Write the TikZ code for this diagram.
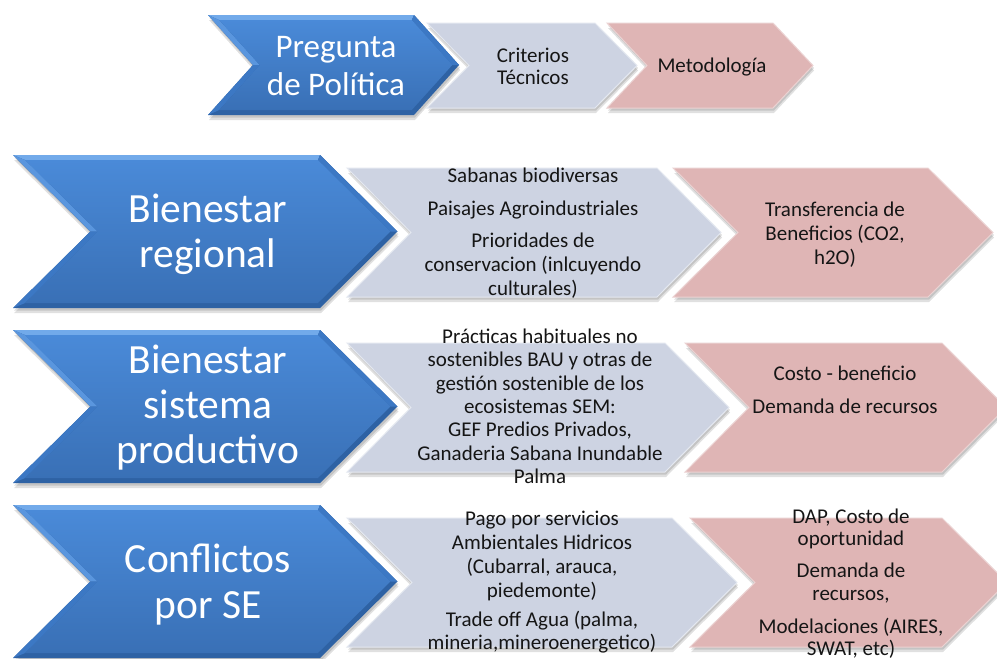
\documentclass[tikz,border=0pt]{standalone}
\usepackage{fontspec}
\setmainfont{Carlito}
\definecolor{bdark}{HTML}{2E62A4}
\definecolor{blight}{HTML}{72AAEA}
\definecolor{bmid}{HTML}{3C78C4}
\definecolor{bleft}{HTML}{5A96DE}
\definecolor{btop}{HTML}{4A8AD8}
\definecolor{bbot}{HTML}{3970B6}
\definecolor{grayf}{HTML}{CDD3E2}
\definecolor{grayl}{HTML}{E4E8F0}
\definecolor{pinkf}{HTML}{DFB5B5}
\definecolor{pinkl}{HTML}{EBD2D2}
\definecolor{txt}{HTML}{151515}
\tikzset{
  bt/.style={text=white,font=\fontsize{41.5}{45}\selectfont,anchor=base,inner sep=0pt},
  tt/.style={text=white,font=\fontsize{33}{38}\selectfont,anchor=base,inner sep=0pt},
  st/.style={text=txt,font=\fontsize{21}{24}\selectfont,anchor=base,inner sep=0pt},
  shad/.style={fill=black,opacity=0.12},
}
% L R top bot d fill edge
\newcommand{\flatchev}[7]{%
  \pgfmathsetmacro\cmid{(#3+#4)/2}%
  \fill[shad] ({#1+1},{#3+5}) -- ({#2+1},{#3+5}) -- ({#2+#5+1},{\cmid+5}) -- ({#2+1},{#4+5}) -- ({#1+1},{#4+5}) -- ({#1+#5+1},{\cmid+5}) -- cycle;
  \fill[shad] ({#1+1},{#3+2.5}) -- ({#2+1},{#3+2.5}) -- ({#2+#5+1},{\cmid+2.5}) -- ({#2+1},{#4+2.5}) -- ({#1+1},{#4+2.5}) -- ({#1+#5+1},{\cmid+2.5}) -- cycle;
  \fill[#6,draw=#7,line width=1pt] (#1,#3) -- (#2,#3) -- ({#2+#5},\cmid) -- (#2,#4) -- (#1,#4) -- ({#1+#5},\cmid) -- cycle;
}
% L R top bot d
\newcommand{\bluechev}[5]{%
  \pgfmathsetmacro\cmid{(#3+#4)/2}%
  \pgfmathsetmacro\hh{(#4-#3)/2}%
  \pgfmathsetmacro\ss{5*sqrt(\hh*\hh+#5*#5)/\hh}%
  \pgfmathsetmacro\aa{#5*5/\hh}%
  \fill[shad] ({#1+1},{#3+5}) -- ({#2+1},{#3+5}) -- ({#2+#5+1},{\cmid+5}) -- ({#2+1},{#4+5}) -- ({#1+1},{#4+5}) -- ({#1+#5+1},{\cmid+5}) -- cycle;
  \fill[shad] ({#1+1},{#3+2.5}) -- ({#2+1},{#3+2.5}) -- ({#2+#5+1},{\cmid+2.5}) -- ({#2+1},{#4+2.5}) -- ({#1+1},{#4+2.5}) -- ({#1+#5+1},{\cmid+2.5}) -- cycle;
  \fill[bdark] (#1,#3) -- (#2,#3) -- ({#2+#5},\cmid) -- (#2,#4) -- (#1,#4) -- ({#1+#5},\cmid) -- cycle;
  \fill[blight] (#1,#3) -- (#2,#3) -- ({#2+\aa-\ss},{#3+5}) -- ({#1+\aa+\ss},{#3+5}) -- cycle;
  \fill[bmid] (#2,#3) -- ({#2+#5},\cmid) -- ({#2+#5-\ss},\cmid) -- ({#2+\aa-\ss},{#3+5}) -- cycle;
  \fill[bleft] (#1,#3) -- ({#1+#5},\cmid) -- ({#1+#5+\ss},\cmid) -- ({#1+\aa+\ss},{#3+5}) -- cycle;
  \fill[bmid] (#1,#4) -- ({#1+#5},\cmid) -- ({#1+#5+\ss},\cmid) -- ({#1+\aa+\ss},{#4-5}) -- cycle;
  \shade[top color=btop,bottom color=bbot] ({#1+\aa+\ss},{#3+5}) -- ({#2+\aa-\ss},{#3+5}) -- ({#2+#5-\ss},\cmid) -- ({#2+\aa-\ss},{#4-5}) -- ({#1+\aa+\ss},{#4-5}) -- ({#1+#5+\ss},\cmid) -- cycle;
}
\begin{document}
\begin{tikzpicture}[x=1pt,y=-1pt]
\useasboundingbox (0,0) rectangle (997,659);
\fill[white] (0,0) rectangle (997,659);
% top row
\flatchev{607}{773}{23}{108}{40}{pinkf}{pinkl}
\flatchev{427}{595}{23}{108}{42}{grayf}{grayl}
\bluechev{208}{414}{15}{115}{45}
% row 1
\flatchev{673}{928}{168}{297}{65}{pinkf}{pinkl}
\flatchev{347}{657}{168}{297}{64}{grayf}{grayl}
\bluechev{13}{320}{155}{308}{77.5}
% row 2
\flatchev{685}{942}{343}{472}{64}{pinkf}{pinkl}
\flatchev{347}{665}{343}{472}{64}{grayf}{grayl}
\bluechev{13}{320}{330}{483}{77.5}
% row 3
\flatchev{690}{942}{518}{647}{65}{pinkf}{pinkl}
\flatchev{347}{672}{518}{647}{65}{grayf}{grayl}
\bluechev{13}{320}{505}{658}{77.5}
% top texts
\node[tt] (pq1) at (336,57) {Pregunta};
\node[tt] (pq2) at (336,95) {de Política};
\node[st] (ct1) at (533,62) {Criterios};
\node[st] (ct2) at (533,84) {Técnicos};
\node[st] (met) at (712,72) {Metodología};
% row 1
\node[bt] (r1a) at (208,222) {Bienestar};
\node[bt] (r1b) at (208,267) {regional};
\node[st] (g1a) at (533,182) {Sabanas biodiversas};
\node[st] (g1b) at (533,215) {Paisajes Agroindustriales};
\node[st] (g1c) at (533,247) {Prioridades de};
\node[st] (g1d) at (533,271) {conservacion (inlcuyendo};
\node[st] (g1e) at (533,295) {culturales)};
\node[st] (p1a) at (835,216) {Transferencia de};
\node[st] (p1b) at (835,240) {Beneficios (CO2,};
\node[st] (p1c) at (835,264) {h2O)};
% row 2
\node[bt] (r2a) at (208,373) {Bienestar};
\node[bt] (r2b) at (208,418) {sistema};
\node[bt] (r2c) at (208,463) {productivo};
\node[st] (g2a) at (540,343) {Prácticas habituales no};
\node[st] (g2b) at (540,366) {sostenibles BAU y otras de};
\node[st] (g2c) at (540,390) {gestión sostenible de los};
\node[st] (g2d) at (540,413) {ecosistemas SEM:};
\node[st] (g2e) at (540,436) {GEF Predios Privados,};
\node[st] (g2f) at (540,460) {Ganaderia Sabana Inundable};
\node[st] (g2g) at (540,483) {Palma};
\node[st] (p2a) at (845,380) {Costo - beneficio};
\node[st] (p2b) at (845,413) {Demanda de recursos};
% row 3
\node[bt] (r3a) at (208,572) {Conflictos};
\node[bt] (r3b) at (208,618) {por SE};
\node[st] (g3a) at (542,525) {Pago por servicios};
\node[st] (g3b) at (542,549) {Ambientales Hidricos};
\node[st] (g3c) at (542,573) {(Cubarral, arauca,};
\node[st] (g3d) at (542,597) {piedemonte)};
\node[st] (g3e) at (542,626) {Trade off Agua (palma,};
\node[st] (g3f) at (542,649) {mineria,mineroenergetico)};
\node[st] (p3a) at (851,523) {DAP, Costo de};
\node[st] (p3b) at (851,545) {oportunidad};
\node[st] (p3c) at (851,577) {Demanda de};
\node[st] (p3d) at (851,600) {recursos,};
\node[st] (p3e) at (851,633) {Modelaciones (AIRES,};
\node[st] (p3f) at (851,655) {SWAT, etc)};
\end{tikzpicture}
\end{document}
